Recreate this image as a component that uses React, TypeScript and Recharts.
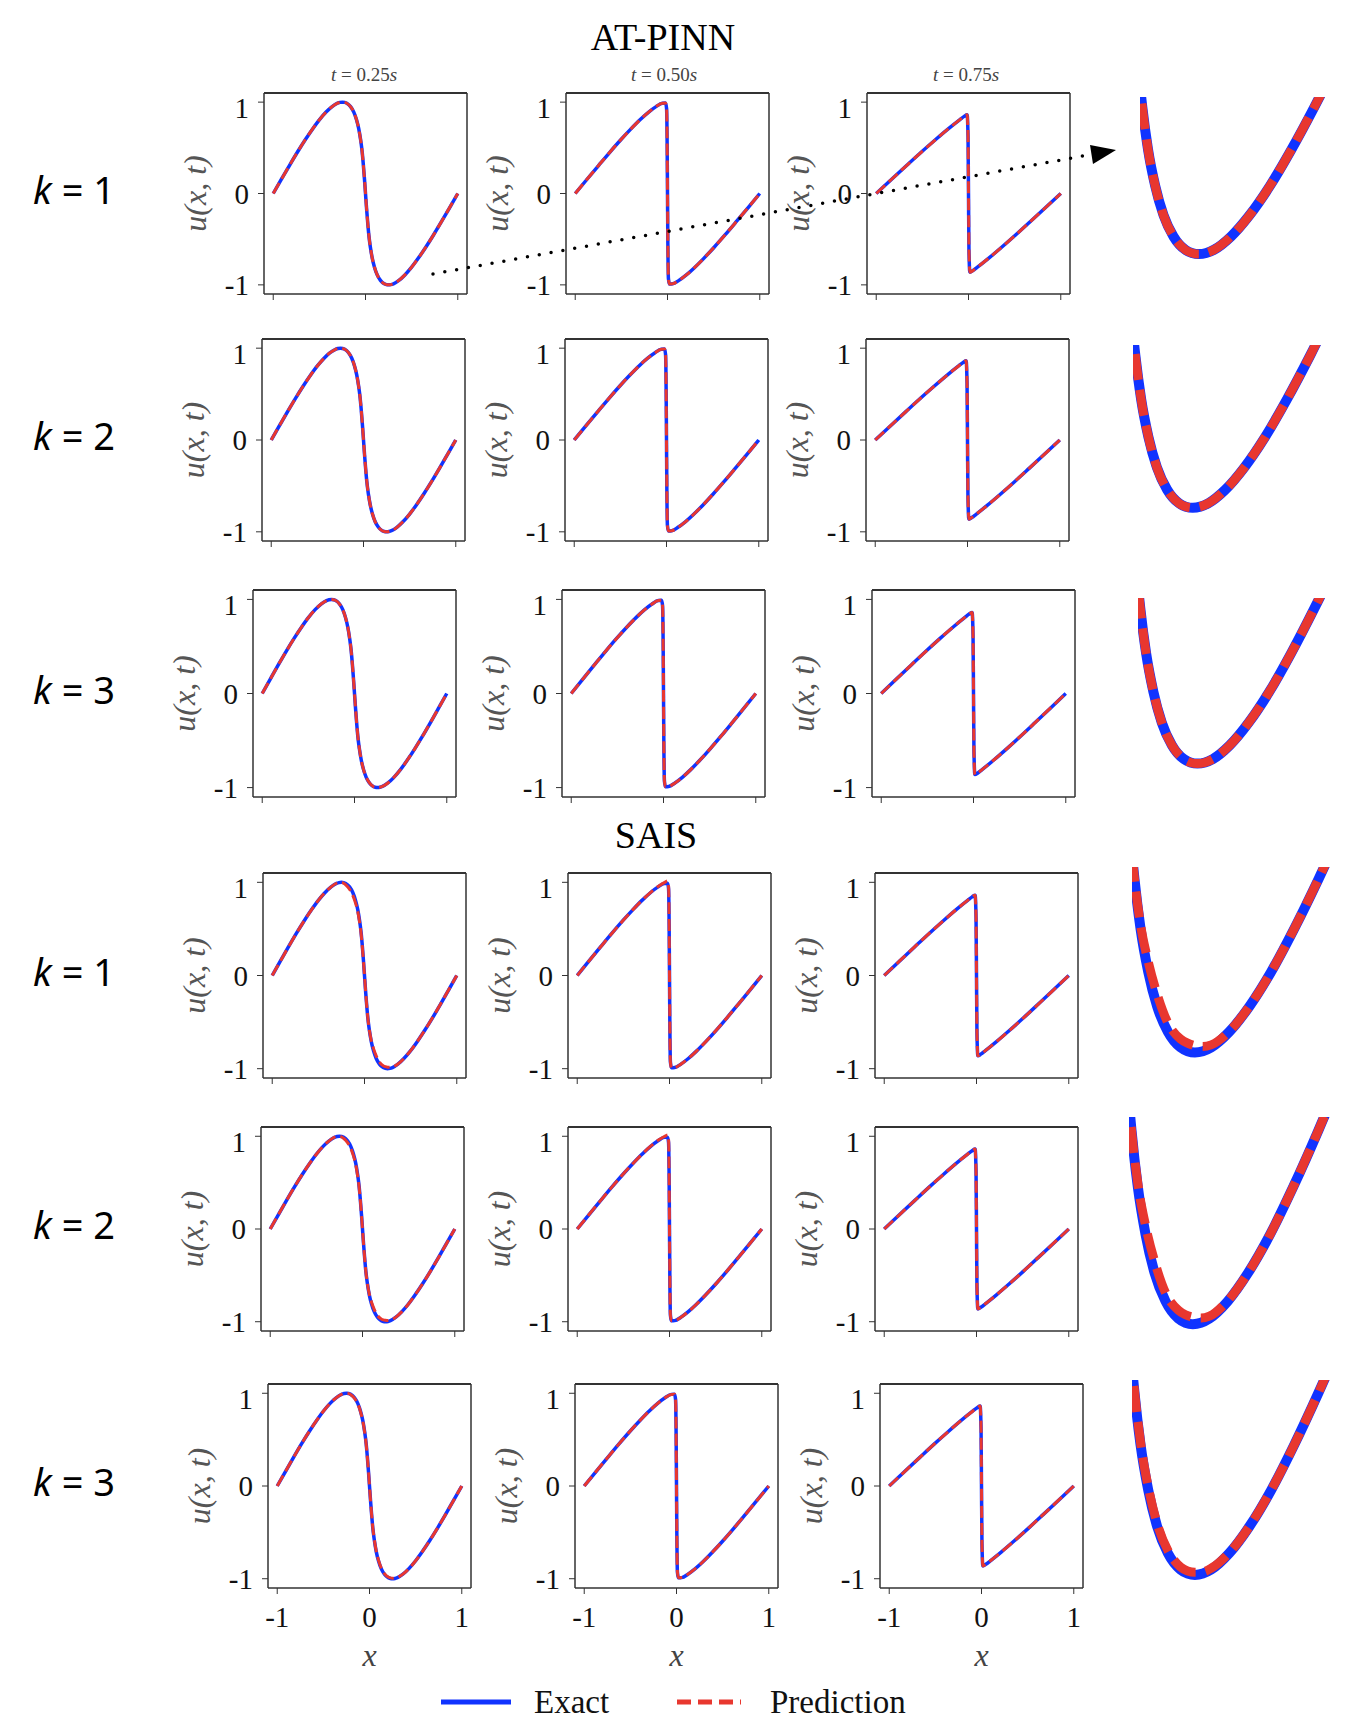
import { LineChart, Line, XAxis, YAxis, ReferenceLine } from "recharts";

// Burgers solution snapshots (x, u pairs)
const X_T025 = [
  -1, -0.911, -0.823, -0.737, -0.653, -0.573, -0.498, -0.427, -0.362, -0.303, -0.276, -0.25, -0.226,
  -0.203, -0.162, -0.127, -0.098, -0.073, -0.053, -0.036, -0.023, -0.011, 0, 0.011, 0.023, 0.036,
  0.053, 0.073, 0.098, 0.127, 0.162, 0.203, 0.226, 0.25, 0.276, 0.303, 0.362, 0.427, 0.498, 0.573,
  0.653, 0.737, 0.823, 0.911, 1,
];
const EXACT_T025 = [
  0, 0.156, 0.309, 0.454, 0.588, 0.707, 0.809, 0.891, 0.951, 0.988, 0.997, 1, 0.997,
  0.988, 0.951, 0.891, 0.809, 0.707, 0.588, 0.454, 0.309, 0.156, 0, -0.156, -0.309, -0.454,
  -0.588, -0.707, -0.809, -0.891, -0.951, -0.988, -0.997, -1, -0.997, -0.988, -0.951, -0.891, -0.809, -0.707,
  -0.588, -0.454, -0.309, -0.156, 0,
];
const SAIS_K1_PRED_T025 = [
  0, 0.156, 0.309, 0.454, 0.588, 0.707, 0.809, 0.891, 0.951, 0.99, 1, 1, 0.99,
  0.972, 0.925, 0.86, 0.78, 0.685, 0.57, 0.44, 0.3, 0.15, 0, -0.156, -0.309, -0.454,
  -0.588, -0.698, -0.785, -0.862, -0.93, -0.968, -0.978, -0.984, -0.986, -0.982, -0.95, -0.891, -0.809, -0.707,
  -0.588, -0.454, -0.309, -0.156, 0,
];
const SAIS_K2_PRED_T025 = [
  0, 0.156, 0.309, 0.454, 0.588, 0.707, 0.809, 0.891, 0.951, 0.99, 0.999, 1, 0.992,
  0.976, 0.932, 0.868, 0.788, 0.692, 0.575, 0.445, 0.303, 0.152, 0, -0.156, -0.309, -0.454,
  -0.588, -0.7, -0.79, -0.866, -0.933, -0.97, -0.98, -0.985, -0.987, -0.983, -0.95, -0.891, -0.809, -0.707,
  -0.588, -0.454, -0.309, -0.156, 0,
];
const SAIS_K3_PRED_T025 = [
  0, 0.156, 0.309, 0.454, 0.588, 0.707, 0.809, 0.891, 0.951, 0.988, 0.998, 1, 0.996,
  0.985, 0.946, 0.885, 0.803, 0.702, 0.584, 0.451, 0.307, 0.155, 0, -0.156, -0.309, -0.452,
  -0.584, -0.702, -0.802, -0.884, -0.945, -0.982, -0.991, -0.994, -0.993, -0.985, -0.95, -0.891, -0.809, -0.707,
  -0.588, -0.454, -0.309, -0.156, 0,
];

const X_T050 = [
  -1, -0.872, -0.745, -0.623, -0.506, -0.396, -0.295, -0.204, -0.124, -0.056, -0.021, -0.01, -0.004, 0,
  0.004, 0.01, 0.021, 0.056, 0.124, 0.204, 0.295, 0.396, 0.506, 0.623, 0.745, 0.872, 1,
];
const EXACT_T050 = [
  0, 0.156, 0.309, 0.454, 0.588, 0.707, 0.809, 0.891, 0.951, 0.988, 0.99, 0.93, 0.55, 0,
  -0.55, -0.93, -0.99, -0.988, -0.951, -0.891, -0.809, -0.707, -0.588, -0.454, -0.309, -0.156, 0,
];
const SAIS_PRED_T050 = [
  0, 0.156, 0.309, 0.454, 0.588, 0.707, 0.809, 0.893, 0.956, 0.997, 1.015, 0.96, 0.56, 0,
  -0.55, -0.93, -0.99, -0.988, -0.951, -0.891, -0.809, -0.707, -0.588, -0.454, -0.309, -0.156, 0,
];

const X_T075 = [
  -1, -0.833, -0.668, -0.51, -0.359, -0.22, -0.093, -0.047, -0.015, -0.005, 0,
  0.005, 0.015, 0.047, 0.093, 0.22, 0.359, 0.51, 0.668, 0.833, 1,
];
const EXACT_T075 = [
  0, 0.156, 0.309, 0.454, 0.588, 0.707, 0.809, 0.844, 0.862, 0.62, 0,
  -0.62, -0.862, -0.844, -0.809, -0.707, -0.588, -0.454, -0.309, -0.156, 0,
];

const TIME_LABELS = ["0.25", "0.50", "0.75"];
const K_VALUES = [1, 2, 3, 1, 2, 3];
const AXIS_TICKS = [-1, 0, 1];

const BLUE = "#1033ff";
const RED = "#e8372f";
const SERIF = "'Liberation Serif', 'Times New Roman', serif";

const pts = (xs: number[], us: number[]) => xs.map((x, i) => ({ x, u: us[i] }));

// per-row layout: plot box top/height, box lefts, zoom panel rect
const ROWS = [
  { top: 93, h: 201, lefts: [264, 566, 867], zoom: [1140, 97, 185, 166] },
  { top: 339, h: 202, lefts: [262, 565, 866], zoom: [1133, 345, 188, 172] },
  { top: 590, h: 207, lefts: [253, 562, 872], zoom: [1138, 598, 187, 175] },
  { top: 873, h: 205, lefts: [263, 568, 875], zoom: [1132, 867, 198, 196] },
  { top: 1127, h: 204, lefts: [261, 568, 875], zoom: [1129, 1117, 201, 219] },
  { top: 1384, h: 204, lefts: [268, 575, 880], zoom: [1132, 1380, 198, 206] },
];
const BOX_W = 203;

const curvesFor = (row: number) => {
  const sais = row >= 3;
  const p025 = !sais ? EXACT_T025 : row === 3 ? SAIS_K1_PRED_T025 : row === 4 ? SAIS_K2_PRED_T025 : SAIS_K3_PRED_T025;
  const p050 = sais && row < 5 ? SAIS_PRED_T050 : EXACT_T050;
  return [
    { exact: pts(X_T025, EXACT_T025), pred: pts(X_T025, p025) },
    { exact: pts(X_T050, EXACT_T050), pred: pts(X_T050, p050) },
    { exact: pts(X_T075, EXACT_T075), pred: pts(X_T075, EXACT_T075) },
  ];
};

type P = { x: number; u: number };

function Panel({ left, top, h, exact, pred, showX }: { left: number; top: number; h: number; exact: P[]; pred: P[]; showX: boolean }) {
  const AX = 138;
  const XH = showX ? 90 : 10;
  const frame = { stroke: "#333", strokeWidth: 1.5 };
  return (
    <div style={{ position: "absolute", left: left - AX, top: top - 2 }}>
      <LineChart width={AX + BOX_W + 2} height={2 + h + XH} margin={{ top: 2, right: 2, bottom: 0, left: 0 }}>
        <XAxis
          type="number"
          dataKey="x"
          domain={[-1.1, 1.1]}
          ticks={AXIS_TICKS}
          allowDataOverflow
          height={XH}
          tickSize={6}
          tickMargin={12}
          axisLine={frame}
          tickLine={{ stroke: "#333" }}
          tickFormatter={showX ? (v: number) => String(v) : () => ""}
          tick={{ fontFamily: SERIF, fontSize: 29, fill: "#111" }}
          label={showX ? { value: "x", position: "insideBottom", offset: 12, style: { fontFamily: SERIF, fontStyle: "italic", fontSize: 32, fill: "#444" } } : undefined}
        />
        <YAxis
          type="number"
          domain={[-1.1, 1.1]}
          ticks={AXIS_TICKS}
          allowDataOverflow
          width={AX}
          tickSize={6}
          tickMargin={9}
          axisLine={frame}
          tickLine={{ stroke: "#333" }}
          tick={{ fontFamily: SERIF, fontSize: 29, fill: "#111" }}
          label={{ value: "u(x, t)", angle: -90, position: "center", style: { fontFamily: SERIF, fontStyle: "italic", fontSize: 32, fill: "#555" } }}
        />
        <ReferenceLine x={1.1} ifOverflow="visible" stroke="#333" strokeWidth={1.5} />
        <ReferenceLine y={1.1} ifOverflow="visible" stroke="#333" strokeWidth={2} />
        <Line data={exact} dataKey="u" type="monotone" stroke={BLUE} strokeWidth={3.5} dot={false} isAnimationActive={false} />
        <Line data={pred} dataKey="u" type="monotone" stroke={RED} strokeWidth={3} strokeDasharray="12 5" dot={false} isAnimationActive={false} />
      </LineChart>
    </div>
  );
}

function ZoomPanel({ rect, exact, pred }: { rect: number[]; exact: P[]; pred: P[] }) {
  const [l, t, w, h] = rect;
  return (
    <div style={{ position: "absolute", left: l, top: t }}>
      <LineChart width={w} height={h} margin={{ top: 0, right: 0, bottom: 0, left: 0 }}>
        <XAxis type="number" dataKey="x" hide domain={[0.045, 0.69]} allowDataOverflow />
        <YAxis type="number" hide domain={[-1.025, -0.56]} allowDataOverflow />
        <Line data={exact} dataKey="u" type="monotone" stroke={BLUE} strokeWidth={10} dot={false} isAnimationActive={false} />
        <Line data={pred} dataKey="u" type="monotone" stroke={RED} strokeWidth={9} strokeDasharray="26 10" dot={false} isAnimationActive={false} />
      </LineChart>
    </div>
  );
}

export default function App() {
  const titleX = [364, 664, 966];
  return (
    <div style={{ position: "absolute", left: 0, top: 0, width: 1352, height: 1726, background: "#fff", overflow: "hidden" }}>
      {ROWS.map((r, ri) => {
        const c = curvesFor(ri);
        return (
          <div key={ri}>
            {r.lefts.map((l, ci) => (
              <Panel key={ci} left={l} top={r.top} h={r.h} exact={c[ci].exact} pred={c[ci].pred} showX={ri === 5} />
            ))}
            <ZoomPanel rect={r.zoom} exact={c[0].exact} pred={c[0].pred} />
          </div>
        );
      })}
      <svg width={1352} height={1726} style={{ position: "absolute", left: 0, top: 0, pointerEvents: "none" }}>
        <text x={663} y={50} textAnchor="middle" fontFamily={SERIF} fontSize={38} fill="#000">AT-PINN</text>
        <text x={656} y={848} textAnchor="middle" fontFamily={SERIF} fontSize={38} fill="#000">SAIS</text>
        {TIME_LABELS.map((tl, i) => (
          <text key={tl} x={titleX[i]} y={81} textAnchor="middle" fontFamily={SERIF} fontSize={19} fill="#444">
            <tspan fontStyle="italic">t</tspan> = {tl}<tspan fontStyle="italic">s</tspan>
          </text>
        ))}
        {ROWS.map((r, ri) => (
          <text key={ri} x={33} y={r.top + r.h / 2 + 10} fontFamily="'Noto Sans', sans-serif" fontSize={38} fill="#000">
            <tspan fontStyle="italic">k</tspan>
            <tspan> = {K_VALUES[ri]}</tspan>
          </text>
        ))}
        <line x1={433} y1={274} x2={1094} y2={154} stroke="#000" strokeWidth={3.5} strokeLinecap="round" strokeDasharray="0 12" />
        <polygon points="1116,150 1093,164 1090,145" fill="#000" />
        <line x1={441} y1={1702} x2={511} y2={1702} stroke={BLUE} strokeWidth={5} />
        <text x={534} y={1713} fontFamily={SERIF} fontSize={33} fill="#111">Exact</text>
        <line x1={677} y1={1702} x2={741} y2={1702} stroke={RED} strokeWidth={5} strokeDasharray="14 7" />
        <text x={770} y={1713} fontFamily={SERIF} fontSize={33} fill="#111">Prediction</text>
      </svg>
    </div>
  );
}
